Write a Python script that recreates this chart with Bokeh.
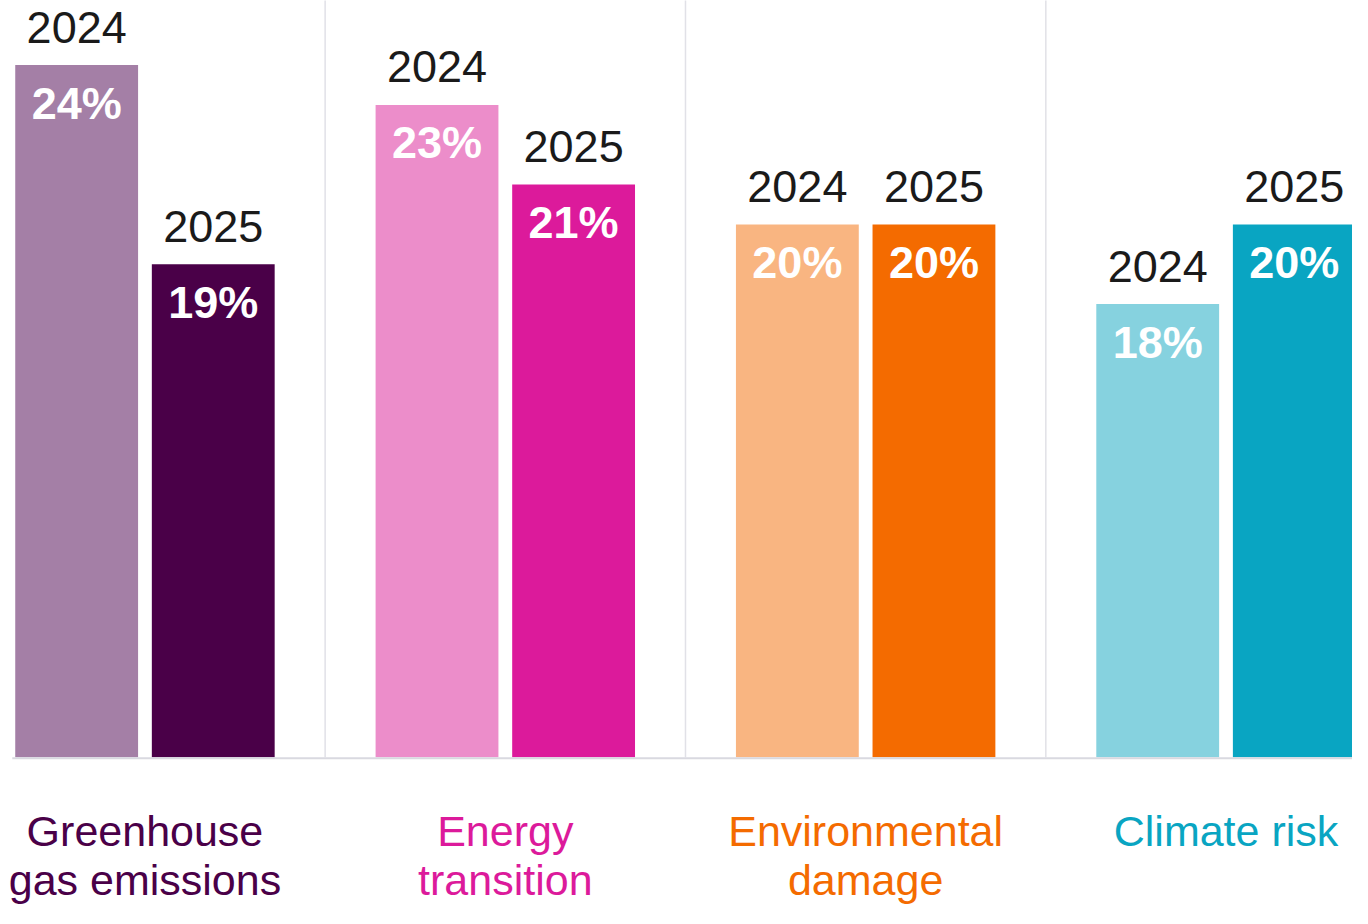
from bokeh.plotting import figure
from bokeh.models import ColumnDataSource, Range1d
from bokeh.embed import file_html
from bokeh.resources import INLINE
from bokeh.core.properties import value

# ---- data ----
categories = ["Greenhouse gas emissions", "Energy transition", "Environmental damage", "Climate risk"]
label_line1 = ["Greenhouse", "Energy", "Environmental", "Climate risk"]
label_line2 = ["gas emissions", "transition", "damage", ""]
years = ["2024", "2025"]
values_2024 = [24, 23, 20, 18]
values_2025 = [19, 21, 20, 20]
colors_2024 = ["#A47FA6", "#EC8DCA", "#F9B581", "#86D2DF"]
colors_2025 = ["#4A0048", "#DC1A9B", "#F46B00", "#09A5C2"]

# ---- layout constants ----
W, H = 1352, 908
S = H / 924.0                 # overall scale of the layout
PX_GROUP = 366.7 * S          # pixels per category group
PX_PCT = 40.52 * S            # pixels per percentage point
BASE = 6.62                   # value at the baseline
X0_PX = 147 * S               # pixel of first group centre
BASE_PX = 770 * S             # pixel of baseline
BAR_W = 125 * S / PX_GROUP
OFF = 69.5 * S / PX_GROUP

x_range = Range1d((0 - X0_PX) / PX_GROUP, (W - X0_PX) / PX_GROUP)
y_range = Range1d(BASE - (H - BASE_PX) / PX_PCT, BASE + BASE_PX / PX_PCT)

p = figure(width=W, height=H, x_range=x_range, y_range=y_range,
           output_backend="svg", toolbar_location=None, min_border=0)
p.axis.visible = False
p.grid.visible = False
p.outline_line_color = None
p.background_fill_color = "white"
p.border_fill_color = "white"

FONT = value("Liberation Sans")
idx = list(range(len(categories)))
x24 = [i - OFF for i in idx]
x25 = [i + OFF for i in idx]

# separators between groups
seps = [i + 0.5 for i in idx[:-1]]
p.segment(x0=seps, x1=seps, y0=[BASE] * len(seps), y1=[y_range.end + 1] * len(seps),
          line_color="#E1E1E7", line_width=1.5)

src24 = ColumnDataSource(dict(x=x24, top=values_2024, color=colors_2024,
                              year=[years[0]] * 4, pct=[f"{v}%" for v in values_2024]))
src25 = ColumnDataSource(dict(x=x25, top=values_2025, color=colors_2025,
                              year=[years[1]] * 4, pct=[f"{v}%" for v in values_2025]))

for src in (src24, src25):
    p.vbar(x="x", top="top", bottom=BASE, width=BAR_W, fill_color="color",
           line_color=None, source=src)
    p.text(x="x", y="top", text="year", source=src, text_align="center",
           text_baseline="alphabetic", y_offset=-38, text_color="#1A1A1A",
           text_font=FONT, text_font_size="45px")
    p.text(x="x", y="top", text="pct", source=src, text_align="center",
           text_baseline="alphabetic", y_offset=38, text_color="white",
           text_font=FONT, text_font_size="45px", text_font_style="bold")

# baseline
p.segment(x0=[x_range.start + 12 * S / PX_GROUP], x1=[x_range.end + 1],
          y0=[BASE - 1.2 / PX_PCT], y1=[BASE - 1.2 / PX_PCT],
          line_color="#D9D9E0", line_width=2)

# category labels
lab = ColumnDataSource(dict(x=idx, l1=label_line1, l2=label_line2, color=colors_2025,
                            y=[BASE] * 4))
p.text(x="x", y="y", text="l1", source=lab, text_align="center",
       text_baseline="alphabetic", y_offset=74, text_color="color",
       text_font=FONT, text_font_size="43px")
p.text(x="x", y="y", text="l2", source=lab, text_align="center",
       text_baseline="alphabetic", y_offset=123, text_color="color",
       text_font=FONT, text_font_size="43px")

open("out.html", "w").write(file_html(p, INLINE))
